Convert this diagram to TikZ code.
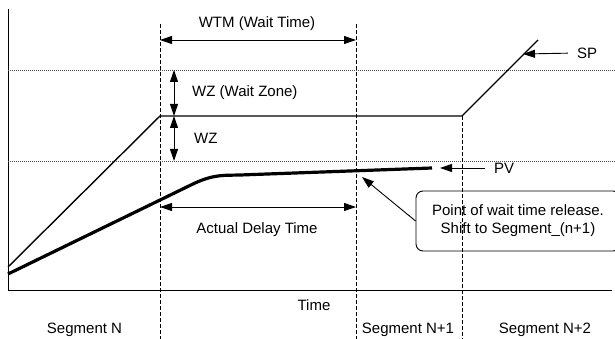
\documentclass[tikz,border=0pt]{standalone}
\usepackage{fontspec}
\setmainfont{Liberation Sans}
\usepackage{tikz}
\usetikzlibrary{arrows.meta}

\tikzset{
  tip/.style={-{Triangle[length=12pt,width=8pt]}},
  twotip/.style={{Triangle[length=12pt,width=8pt]}-{Triangle[length=12pt,width=8pt]}},
  segline/.style={dash pattern=on 4pt off 2pt, line width=0.9pt},
  zoneline/.style={dash pattern=on 1pt off 1pt, line width=0.8pt, black!70},
  lbl/.style={inner sep=0pt, font=\fontsize{15}{18}\selectfont}
}

\begin{document}
\begin{tikzpicture}[x=1pt, y=-1pt]
        \clip (0,0) rectangle (615,339);

        % axes and guide lines
        \draw[line width=1pt] (8,9) -- (8,290) -- (612,290);
        \draw[zoneline] (8,70) -- (615,70);
        \draw[zoneline] (8,161) -- (615,161);
        \draw[segline] (160,24) -- (160,339);
        \draw[segline] (356,24) -- (356,339);
        \draw[segline] (462,116) -- (462,339);

        % set point and process value
        \coordinate (spstart) at (8,267);
        \coordinate (spwait) at (160,116);
        \coordinate (spend) at (462,116);
        \coordinate (sptop) at (538,40);
        \draw[line width=1.4pt] (spstart) -- (spwait) -- (spend) -- (sptop);
        \draw[line width=3.2pt] (8,274) -- (195,183) .. controls (215,174) and (225,175.5) .. (240,175) -- (432,168);

        % dimension arrows
        \coordinate (wtmleft) at (160,40);
        \coordinate (wtmright) at (356,40);
        \draw[twotip, line width=0.9pt] (wtmleft) -- (wtmright);
        \coordinate (wztop) at (174,70);
        \coordinate (wzmid) at (174,116);
        \coordinate (wzbot) at (174,161);
        \draw[twotip, line width=0.9pt] (wztop) -- (wzmid);
        \draw[twotip, line width=0.9pt] (wzmid) -- (wzbot);
        \coordinate (delayleft) at (160,207);
        \coordinate (delayright) at (356,207);
        \draw[twotip, line width=0.9pt] (delayleft) -- (delayright);

        \node[lbl] (wtm) at (257,24) {WTM (Wait Time)};
        \node[lbl, anchor=west] (wzone) at (192,93) {WZ (Wait Zone)};
        \node[lbl, anchor=west] (wz) at (194,138) {WZ};
        \node[lbl] (delay) at (257,230) {Actual Delay Time};

        % curve labels
        \coordinate (sptip) at (523,54);
        \coordinate (pvtip) at (440,168);
        \coordinate (releasetip) at (362,177);
        \node[lbl] (sp) at (587,53) {SP};
        \node[lbl] (pv) at (504,168) {PV};
        \draw[tip, line width=0.9pt, shorten <=9pt] (sp.west) -- (sptip);
        \draw[tip, line width=0.9pt, shorten <=9pt] (pv.west) -- (pvtip);

        \node[draw, line width=0.9pt, rounded corners=7pt, minimum width=204pt, minimum height=60pt, align=center, font=\fontsize{15}{18}\selectfont] (release) at (518,221) {Point of wait time release.\\Shift to Segment\_(n+1)};
        \draw[tip, line width=0.9pt] (release.west) -- (releasetip);

        % time axis
        \node[lbl] (time) at (314,305) {Time};
        \node[lbl] (segn) at (84.5,330) {Segment N};
        \node[lbl] (segnone) at (408,330) {Segment N+1};
        \node[lbl] (segntwo) at (545,330) {Segment N+2};

    \end{tikzpicture}
\end{document}
